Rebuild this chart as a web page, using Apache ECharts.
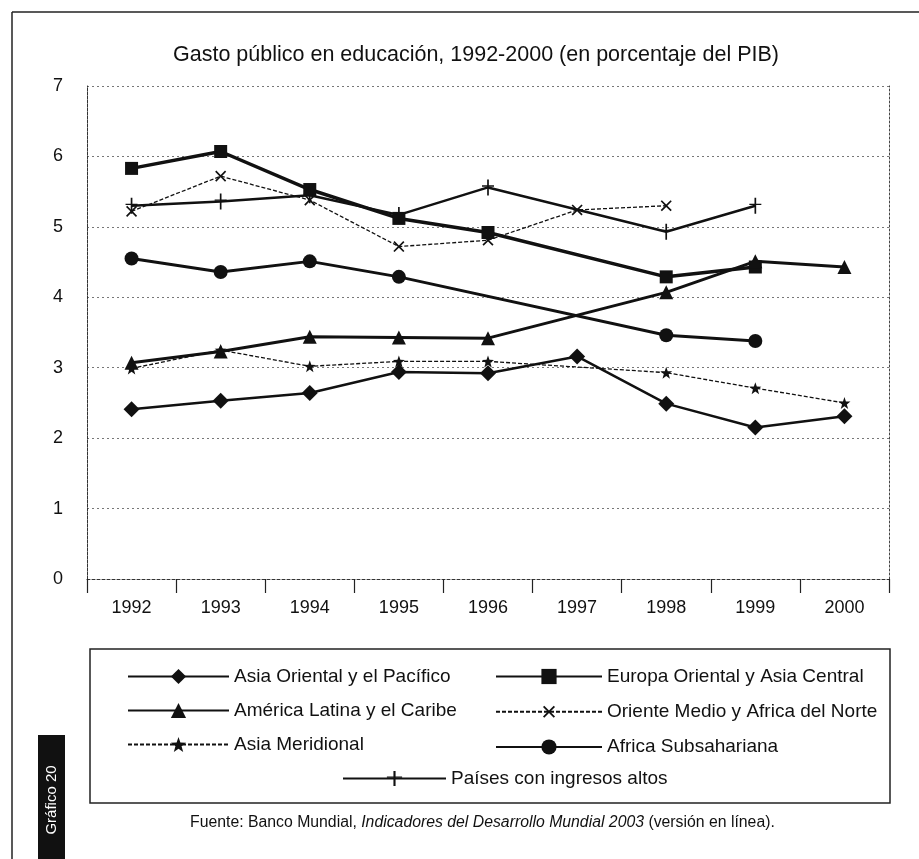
<!DOCTYPE html>
<html>
<head>
<meta charset="utf-8">
<script src="https://cdn.jsdelivr.net/npm/echarts@6/dist/echarts.min.js"></script>
<style>
  html, body { margin: 0; padding: 0; background: #fff; }
  #chart { width: 919px; height: 859px; }
</style>
</head>
<body>
<div id="chart"></div>
<script>
// datos (% del PIB)
var years = ['1992', '1993', '1994', '1995', '1996', '1997', '1998', '1999', '2000'];
var asiaOriental   = [2.41, 2.53, 2.64, 2.94, 2.92, 3.16, 2.49, 2.15, 2.31];
var europaOriental = [5.83, 6.07, 5.53, 5.12, 4.92, null, 4.29, 4.43, null];
var americaLatina  = [3.07, 3.23, 3.44, 3.43, 3.42, null, 4.07, 4.51, 4.43];
var orienteMedio   = [5.22, 5.72, 5.38, 4.72, 4.81, 5.24, 5.30, null, null];
var asiaMeridional = [2.99, 3.25, 3.02, 3.09, 3.09, null, 2.93, 2.71, 2.50];
var africaSub      = [4.55, 4.36, 4.51, 4.29, null, null, 3.46, 3.38, null];
var paisesAltos    = [5.30, 5.36, 5.45, 5.17, 5.56, null, 4.93, 5.30, null];

var seriesNames = [
    'Asia Oriental y el Pacífico',
    'Europa Oriental y Asia Central',
    'América Latina y el Caribe',
    'Oriente Medio y Africa del Norte',
    'Asia Meridional',
    'Africa Subsahariana',
    'Países con ingresos altos'
];

var ink = '#111';
var font = 'Liberation Sans';

// marcadores propios
var crossPath = 'path://M4.4,0 H5.6 V4.4 H10 V5.6 H5.6 V10 H4.4 V5.6 H0 V4.4 H4.4 Z';
var plusPath = 'path://M4.3,0 H5.7 V5.2 H10 V6.4 H5.7 V14 H4.3 V6.4 H0 V5.2 H4.3 Z';
var starPath = 'path://M10,0 L12.35,6.76 L19.51,6.91 L13.8,11.24 L15.88,18.09 L10,14 L4.12,18.09 L6.2,11.24 L0.49,6.91 L7.65,6.76 Z';

function makeLine(name, data, symbol, size, width, dashed, rotate) {
    return {
        name: name,
        type: 'line',
        data: data,
        connectNulls: true,
        symbol: symbol,
        symbolSize: size,
        symbolRotate: rotate || 0,
        showAllSymbol: true,
        itemStyle: { color: ink },
        lineStyle: { color: ink, width: width, type: dashed ? [4, 2] : 'solid' },
        emphasis: { disabled: true },
        animation: false
    };
}

var legendText = { fontFamily: font, fontSize: 19, color: ink };

var chart = echarts.init(document.getElementById('chart'));

var option = {
    backgroundColor: '#fff',
    textStyle: { fontFamily: font, color: ink },
    title: {
        text: 'Gasto público en educación, 1992-2000 (en porcentaje del PIB)',
        left: 168,
        top: 39,
        textStyle: { fontFamily: font, fontSize: 21.5, fontWeight: 'normal', color: ink }
    },
    grid: { left: 87, right: 30, top: 86, bottom: 280 },
    legend: [
        {
            data: [seriesNames[0], seriesNames[2], seriesNames[4]],
            orient: 'vertical', left: 122, top: 662,
            itemWidth: 101, itemHeight: 19, itemGap: 15,
            textStyle: legendText,
            selectedMode: false
        },
        {
            data: [seriesNames[1], seriesNames[3], seriesNames[5]],
            orient: 'vertical', left: 490, top: 662,
            itemWidth: 106, itemHeight: 19, itemGap: 15,
            textStyle: legendText,
            selectedMode: false
        },
        {
            data: [seriesNames[6]],
            orient: 'vertical', left: 337, top: 764,
            itemWidth: 103, itemHeight: 19,
            textStyle: legendText,
            selectedMode: false
        }
    ],
    xAxis: {
        type: 'category',
        data: years,
        axisLine: { show: true, lineStyle: { color: '#333', type: [3, 2] } },
        axisTick: { show: true, length: 14, lineStyle: { color: '#222', width: 1.2 } },
        axisLabel: { fontFamily: font, fontSize: 18, color: ink, margin: 20 }
    },
    yAxis: [
        {
            type: 'value',
            min: 0, max: 7, interval: 1,
            axisLine: { show: true, lineStyle: { color: '#333', type: [3, 1] } },
            axisTick: { show: false },
            axisLabel: { fontFamily: font, fontSize: 18, color: ink, margin: 24 },
            splitLine: { lineStyle: { color: '#777', type: [2, 3] } }
        },
        {
            type: 'value',
            position: 'right',
            min: 0, max: 7, interval: 1,
            axisLine: { show: true, lineStyle: { color: '#444', type: [2, 2] } },
            axisTick: { show: false },
            axisLabel: { show: false },
            splitLine: { show: false }
        }
    ],
    series: [
        makeLine(seriesNames[0], asiaOriental, 'diamond', 16, 2.5, false),
        makeLine(seriesNames[1], europaOriental, 'rect', 13, 3.5, false),
        makeLine(seriesNames[2], americaLatina, 'triangle', 14, 3, false),
        makeLine(seriesNames[3], orienteMedio, crossPath, 14, 1.3, true, 45),
        makeLine(seriesNames[4], asiaMeridional, starPath, 12, 1.3, true),
        makeLine(seriesNames[5], africaSub, 'circle', 14, 3, false),
        makeLine(seriesNames[6], paisesAltos, plusPath, [12, 16], 2.5, false)
    ],
    graphic: [
        // marco de la página
        { type: 'line', shape: { x1: 12, y1: 12, x2: 919, y2: 12 }, style: { stroke: '#222', lineWidth: 1.5 } },
        { type: 'line', shape: { x1: 12, y1: 12, x2: 12, y2: 859 }, style: { stroke: '#222', lineWidth: 1.5 } },
        // caja de la leyenda
        { type: 'rect', shape: { x: 90, y: 649, width: 800, height: 154 }, style: { fill: 'none', stroke: '#222', lineWidth: 1.5 } },
        // etiqueta lateral
        { type: 'rect', shape: { x: 38, y: 735, width: 27, height: 124 }, style: { fill: '#111' } },
        {
            type: 'text', x: 52, y: 800, rotation: Math.PI / 2,
            style: { text: 'Gráfico 20', fill: '#fff', font: '15px "Liberation Sans"', textAlign: 'center', textVerticalAlign: 'middle' }
        },
        // fuente
        {
            type: 'text', x: 190, y: 823,
            style: {
                text: '{n|Fuente: Banco Mundial, }{i|Indicadores del Desarrollo Mundial 2003}{n| (versión en línea).}',
                textVerticalAlign: 'middle',
                rich: {
                    n: { fontFamily: font, fontSize: 15.8, fill: ink, fontStyle: 'normal' },
                    i: { fontFamily: font, fontSize: 15.8, fill: ink, fontStyle: 'italic' }
                }
            }
        }
    ]
};

chart.setOption(option);
</script>
</body>
</html>
